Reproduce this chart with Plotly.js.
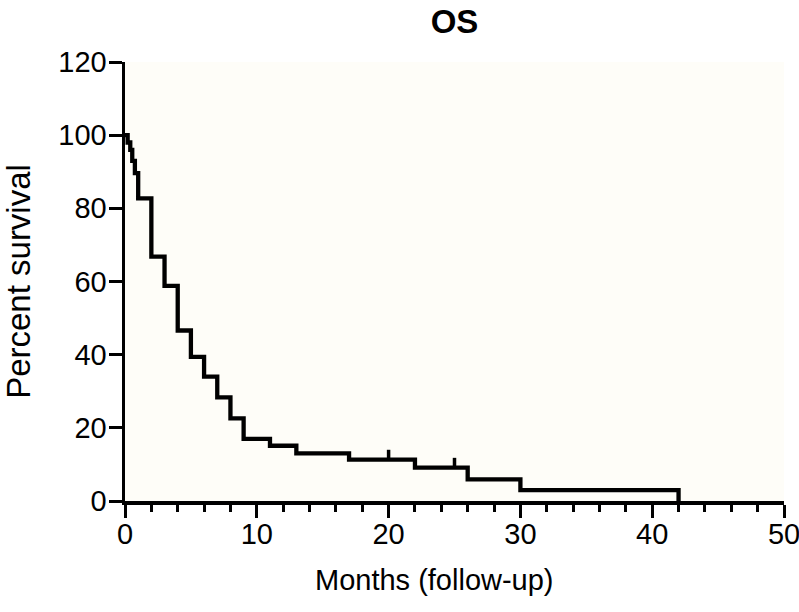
<!DOCTYPE html>
<html>
<head>
<meta charset="utf-8">
<script src="https://cdn.plot.ly/plotly-3.0.1.min.js"></script>
<style>html,body{margin:0;padding:0;background:#fff;}#chart{width:799px;height:612px;}</style>
</head>
<body>
<div id="chart"></div>
<script>
// Kaplan-Meier step data (months, percent survival)
const times = [0, 0.2, 0.4, 0.55, 0.75, 1, 2, 3, 4, 5, 6, 7, 8, 9, 11, 13, 17, 22, 26, 30, 42];
const survival = [100, 98, 96, 93, 89.6, 82.7, 66.8, 58.8, 46.6, 39.4, 34, 28.3, 22.6, 17, 15.1, 13, 11.3, 9.1, 5.9, 3, 0];
const censorTimes = [20, 25];
const xTickVals = [0, 10, 20, 30, 40, 50];
const yTickVals = [0, 20, 40, 60, 80, 100, 120];

function survAt(t) {
  let s = survival[0];
  for (let i = 0; i < times.length; i++) { if (times[i] <= t) s = survival[i]; }
  return s;
}
const censorH = 2.7;
const cx = [], cy = [];
censorTimes.forEach(t => { const s = survAt(t); cx.push(t, t, null); cy.push(s, s + censorH, null); });

const font = "'Liberation Sans', Arial, Helvetica, sans-serif";
const traces = [
  {x: times, y: survival, type: 'scatter', mode: 'lines', line: {shape: 'hv', color: '#000', width: 4.3}, hoverinfo: 'skip'},
  {x: cx, y: cy, type: 'scatter', mode: 'lines', line: {color: '#000', width: 3.5}, hoverinfo: 'skip'}
];
const layout = {
  width: 799, height: 612,
  margin: {l: 125, r: 15, t: 62, b: 111},
  paper_bgcolor: '#ffffff', plot_bgcolor: '#fefdf8',
  showlegend: false,
  font: {family: font, color: '#000'},
  title: {text: '<b>OS</b>', x: 0.5, xref: 'paper', y: 0.965, yref: 'container', yanchor: 'middle', font: {size: 33, family: font, color: '#000'}},
  xaxis: {
    range: [0, 50], tickvals: xTickVals, ticks: 'outside', ticklen: 13, tickwidth: 3, tickcolor: '#000',
    showline: true, linewidth: 3.5, linecolor: '#000', showgrid: false, zeroline: false,
    tickfont: {size: 29, family: font}, ticklabelstandoff: -8, ticklabeloverflow: 'allow',
    minor: {dtick: 2, ticks: 'outside', ticklen: 7, tickwidth: 3, tickcolor: '#000', showgrid: false}
  },
  yaxis: {
    range: [0, 120], tickvals: yTickVals, ticks: 'outside', ticklen: 13, tickwidth: 3, tickcolor: '#000',
    showline: true, linewidth: 3.5, linecolor: '#000', showgrid: false, zeroline: false,
    tickfont: {size: 29, family: font}, ticklabelstandoff: -4, ticklabeloverflow: 'allow',
    title: {text: 'Percent survival', font: {size: 33, family: font}, standoff: 20}
  },
  annotations: [{
    text: 'Months (follow-up)', xref: 'paper', yref: 'paper', x: 0.47, y: -0.18,
    xanchor: 'center', yanchor: 'middle', showarrow: false, font: {size: 29, family: font, color: '#000'}
  }]
};
Plotly.newPlot('chart', traces, layout, {staticPlot: true, displayModeBar: false});
</script>
</body>
</html>
